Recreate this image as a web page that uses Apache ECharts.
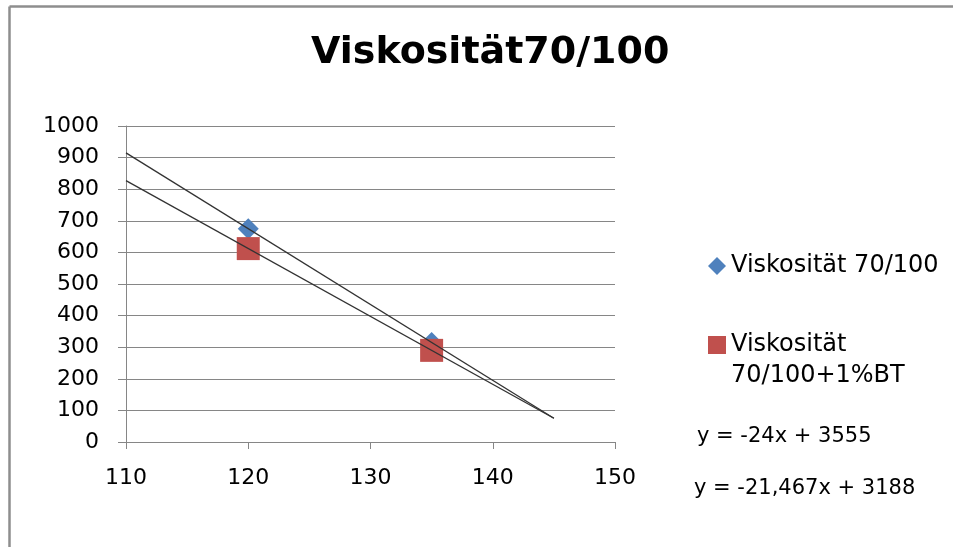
<!DOCTYPE html>
<html>
<head>
<meta charset="utf-8">
<script src="https://cdn.jsdelivr.net/npm/echarts@6/dist/echarts.min.js"></script>
<style>html,body{margin:0;padding:0;background:#fff}#c{width:953px;height:547px}</style>
</head>
<body>
<div id="c"></div>
<script>
var titleText = 'Viskosität70/100';
var seriesNames = ['Viskosität 70/100', 'Viskosität 70/100+1%BT'];
var xValues = [120, 135];
var visc1 = [675, 315];
var visc2 = [612, 290];
var trendX = [110, 145];
var trend1 = [915, 75];
var trend2 = [827, 75];
var equations = ['y = -24x + 3555', 'y = -21,467x + 3188'];
var xTicks = [110, 120, 130, 140, 150];
var yTicks = [0, 100, 200, 300, 400, 500, 600, 700, 800, 900, 1000];

function pairs(xs, ys) { return xs.map(function (x, i) { return [x, ys[i]]; }); }

var FONT = 'DejaVu Sans';
var chart = echarts.init(document.getElementById('c'));
chart.setOption({
  animation: false,
  title: {
    text: titleText,
    left: 311,
    top: 34,
    padding: 0,
    textStyle: { fontFamily: FONT, fontWeight: 'bold', fontSize: 38, color: '#000' }
  },
  grid: { left: 126, right: 338, top: 126, bottom: 105 },
  xAxis: {
    type: 'value', min: xTicks[0], max: xTicks[xTicks.length - 1], interval: 10,
    axisLine: { lineStyle: { color: '#868686', width: 1 } },
    axisTick: { show: true, length: 7, lineStyle: { color: '#868686' } },
    axisLabel: { fontFamily: FONT, fontSize: 22, color: '#000', margin: 25 },
    splitLine: { show: false }
  },
  yAxis: {
    type: 'value', min: yTicks[0], max: yTicks[yTicks.length - 1], interval: 100,
    axisLine: { show: true, onZero: false, lineStyle: { color: '#868686', width: 1 } },
    axisTick: { show: true, length: 8, lineStyle: { color: '#868686' } },
    axisLabel: { fontFamily: FONT, fontSize: 22, color: '#000', margin: 27, formatter: function (v) { return String(v); } },
    splitLine: { show: true, lineStyle: { color: '#868686', width: 1 } }
  },
  legend: [{
    orient: 'vertical', left: 708, top: 254, padding: 0, itemWidth: 18, itemHeight: 18,
    data: [{ name: seriesNames[0], icon: 'diamond' }],
    textStyle: { fontFamily: FONT, fontSize: 24, color: '#000' }
  }, {
    orient: 'vertical', left: 708, top: 302, padding: 0, itemWidth: 18, itemHeight: 18,
    data: [{ name: seriesNames[1], icon: 'rect' }],
    formatter: function () { return '{e| }\n{a|Viskosität}\n{a|70/100+1%BT}'; },
    textStyle: {
      fontFamily: FONT, fontSize: 24, color: '#000',
      rich: {
        e: { fontFamily: FONT, fontSize: 24, lineHeight: 31 },
        a: { fontFamily: FONT, fontSize: 24, lineHeight: 31, color: '#000' }
      }
    }
  }],
  graphic: [
    { type: 'line', shape: { x1: 9.5, y1: 6.5, x2: 953, y2: 6.5 }, style: { stroke: '#8e8e8e', lineWidth: 2.5 } },
    { type: 'line', shape: { x1: 9.5, y1: 6.5, x2: 9.5, y2: 547 }, style: { stroke: '#8e8e8e', lineWidth: 2.5 } },
    { type: 'text', left: 697, top: 426, style: { text: equations[0], fontFamily: FONT, fontSize: 21, fill: '#000' } },
    { type: 'text', left: 694, top: 478, style: { text: equations[1], fontFamily: FONT, fontSize: 21, fill: '#000' } }
  ],
  series: [
    { type: 'line', data: pairs(trendX, trend1), symbol: 'none', lineStyle: { color: '#333333', width: 1.3 }, silent: true, z: 3 },
    { type: 'line', data: pairs(trendX, trend2), symbol: 'none', lineStyle: { color: '#333333', width: 1.3 }, silent: true, z: 3 },
    { name: seriesNames[0], type: 'scatter', data: pairs(xValues, visc1), symbol: 'diamond', symbolSize: 21, itemStyle: { color: '#4F81BD', opacity: 1 }, z: 2 },
    { name: seriesNames[1], type: 'scatter', data: pairs(xValues, visc2), symbol: 'rect', symbolSize: 23, itemStyle: { color: '#C0504D', opacity: 1 }, z: 2 }
  ]
});
</script>
</body>
</html>
